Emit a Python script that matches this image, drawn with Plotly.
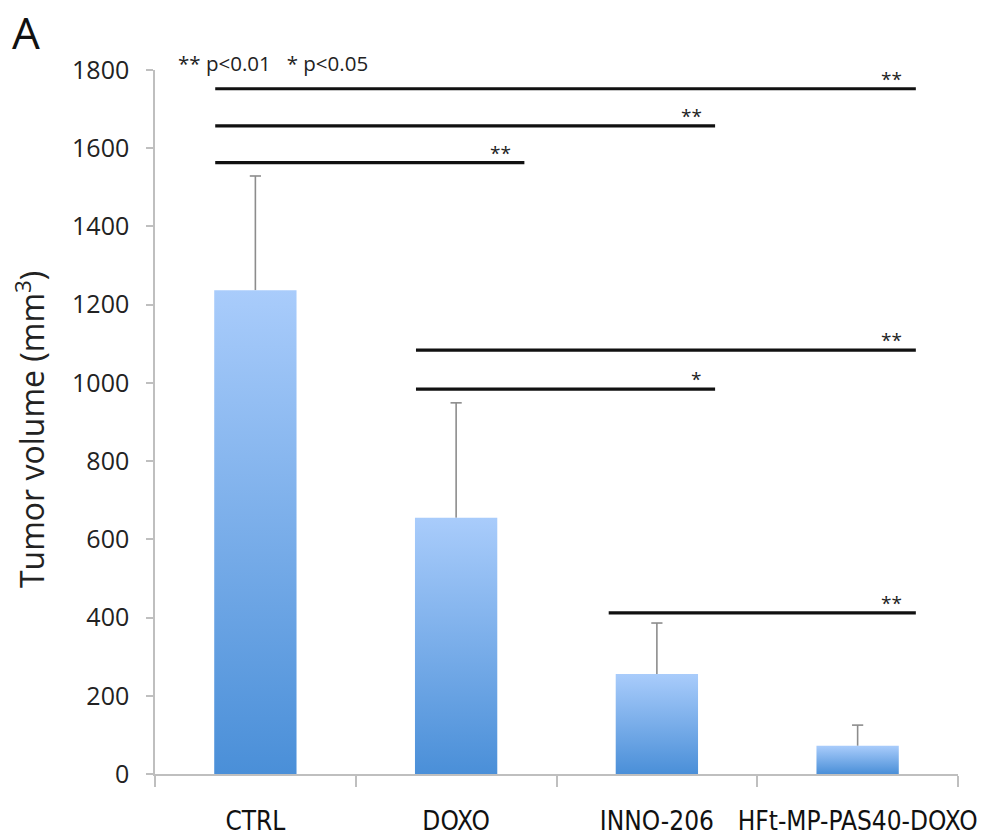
import plotly.graph_objects as go

# ---- data ----
categories = ["CTRL", "DOXO", "INNO-206", "HFt-MP-PAS40-DOXO"]
volumes = [1237, 655, 256, 72]
errors = [292, 294, 130, 53]

# significance bars: start category pos, end category pos, height (mm3), label
sig_start = [-0.2, -0.2, -0.2, 0.8, 0.8, 1.76]
sig_end = [3.29, 2.29, 1.34, 3.29, 2.29, 3.29]
sig_y = [1752, 1657, 1563, 1084, 984, 412]
sig_label = ["**", "**", "**", "**", "*", "**"]

y_ticks = [0, 200, 400, 600, 800, 1000, 1200, 1400, 1600, 1800]

BAR_W = 0.41
x_pos = list(range(len(categories)))

fig = go.Figure()

# bar trace carrying error stems (upper only)
fig.add_trace(go.Bar(
    x=x_pos, y=volumes, width=BAR_W,
    marker=dict(color="rgba(0,0,0,0)", line=dict(width=0)),
    error_y=dict(type="data", array=errors, arrayminus=[0] * len(errors),
                 symmetric=False, color="#8c8c8c", thickness=1.6, width=0),
    showlegend=False,
))

# gradient bars (light top, dark bottom)
for xi, v in zip(x_pos, volumes):
    x0, x1 = xi - BAR_W / 2, xi + BAR_W / 2
    fig.add_trace(go.Scatter(
        x=[x0, x1, x1, x0, x0], y=[0, 0, v, v, 0],
        mode="lines", fill="toself", line=dict(width=0),
        fillgradient=dict(type="vertical",
                          colorscale=[[0, "#4a8fd8"], [1, "#a9ccfb"]]),
        hoverinfo="skip", showlegend=False,
    ))

# error bar caps (top only)
fig.add_trace(go.Scatter(
    x=x_pos, y=[v + e for v, e in zip(volumes, errors)], mode="markers",
    marker=dict(symbol="line-ew", size=8, line=dict(color="#8c8c8c", width=1.6)),
    hoverinfo="skip", showlegend=False,
))

# significance lines
for s, e, y, lab in zip(sig_start, sig_end, sig_y, sig_label):
    fig.add_trace(go.Scatter(x=[s, e], y=[y, y], mode="lines",
                             line=dict(color="#111111", width=3.2),
                             hoverinfo="skip", showlegend=False))
    fig.add_annotation(x=e - (0.12 if lab == "**" else 0.095), y=y,
                       text=lab, showarrow=False, xanchor="center",
                       yanchor="bottom", yshift=-5,
                       font=dict(size=19, color="#222222", family="Open Sans"))

# page body offset is 8px, plot area at screen x 155..958, y 70..774
fig.add_annotation(xref="paper", yref="paper", x=(30 - 155) / 803, y=(774 - 430) / 704,
                   text="Tumor volume (mm<sup>3</sup>)", textangle=-90, showarrow=False,
                   xanchor="center", yanchor="middle",
                   font=dict(size=32, color="#222222", family="Open Sans"))
fig.add_annotation(xref="paper", yref="paper", x=(10 - 155) / 803, y=(774 - 32) / 704,
                   text="A", showarrow=False, xanchor="left", yanchor="middle",
                   font=dict(size=44, color="#111111", family="Open Sans"))
fig.add_annotation(xref="paper", yref="paper", x=(176 - 155) / 803, y=(774 - 63) / 704,
                   text="** p<0.01   * p<0.05", showarrow=False, xanchor="left",
                   yanchor="middle",
                   font=dict(size=20.5, color="#222222", family="Open Sans"))

fig.update_layout(
    width=996, height=829,
    margin=dict(l=147, r=46, t=62, b=63),
    plot_bgcolor="white", paper_bgcolor="white",
    xaxis=dict(range=[-0.5, 3.5], tickmode="array", tickvals=x_pos,
               ticktext=categories, ticks="", showgrid=False, zeroline=False,
               showline=True, linecolor="#bfbfbf", linewidth=1.5,
               ticklabelstandoff=23, automargin=False,
               tickfont=dict(family="Liberation Sans Narrow, DejaVu Sans Condensed, Arial Narrow",
                             size=26, color="#111111"),
               minor=dict(tickmode="array", tickvals=[-0.5, 0.5, 1.5, 2.5, 3.5],
                          ticks="outside", ticklen=11, tickwidth=1.5,
                          tickcolor="#bfbfbf", showgrid=False)),
    yaxis=dict(range=[0, 1800], tickmode="array", tickvals=y_ticks,
               ticks="outside", ticklen=7, tickwidth=1.5, tickcolor="#bfbfbf",
               showline=True, linecolor="#bfbfbf", linewidth=1.5, automargin=False,
               showgrid=False, zeroline=False, ticklabelstandoff=12,
               tickfont=dict(family="Open Sans", size=25, color="#222222")),
)

fig.write_html("out.html")
